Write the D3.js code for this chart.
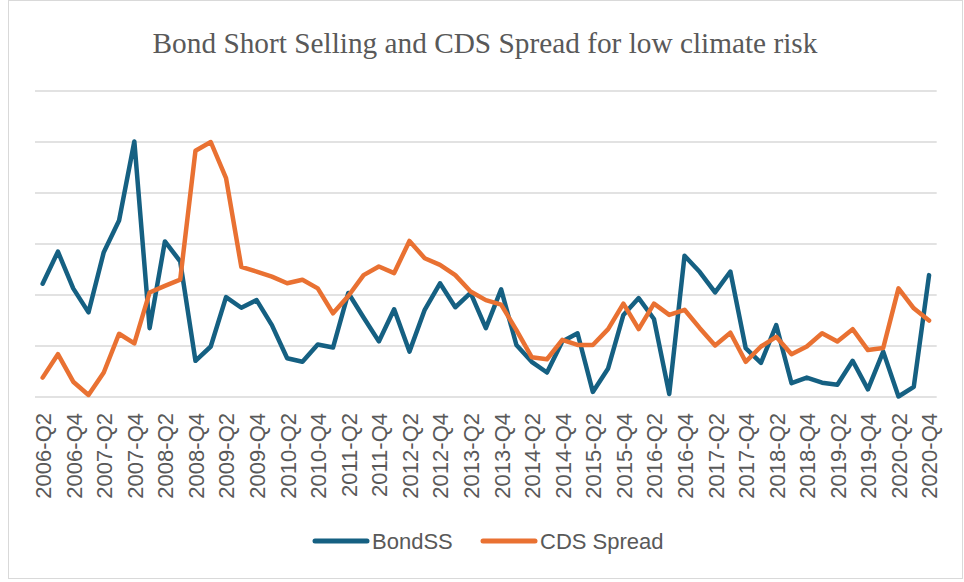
<!DOCTYPE html>
<html>
<head>
<meta charset="utf-8">
<script src="https://cdn.jsdelivr.net/npm/d3@7"></script>
<style>
  body { margin: 0; background: #fff; }
  svg { display: block; }
  .grid line { stroke: #d9d9d9; stroke-width: 1.3; }
  .x-label { font-family: "Liberation Sans", Arial, sans-serif; font-size: 22px; fill: #595959; }
  .legend-text { font-family: "Liberation Sans", Arial, sans-serif; font-size: 22px; fill: #595959; }
  .chart-title { font-family: "Liberation Serif", "Times New Roman", serif; font-size: 29.3px; fill: #595959; }
</style>
</head>
<body>
<div id="chart"></div>
<script>
// quarters 2006-Q2 .. 2020-Q4
const quarters = [];
for (let y = 2006; y <= 2020; y++) {
    for (let q = 1; q <= 4; q++) {
        if (y === 2006 && q === 1) continue;
        quarters.push(`${y}-Q${q}`);
    }
}

const bondSS = [2.22, 2.85, 2.13, 1.66, 2.84, 3.46, 5.01, 1.35, 3.05, 2.66,
    0.71, 0.99, 1.96, 1.75, 1.90, 1.41, 0.76, 0.69, 1.03, 0.97,
    2.04, 1.56, 1.09, 1.72, 0.89, 1.71, 2.23, 1.76, 2.04, 1.35,
    2.11, 1.02, 0.69, 0.48, 1.09, 1.25, 0.10, 0.56, 1.61, 1.94,
    1.53, 0.06, 2.77, 2.45, 2.05, 2.46, 0.96, 0.67, 1.41, 0.27,
    0.38, 0.28, 0.24, 0.71, 0.15, 0.89, 0.01, 0.20, 2.39];

const cdsSpread = [0.38, 0.84, 0.30, 0.04, 0.48, 1.24, 1.05, 2.05, 2.18, 2.30,
    4.83, 5.00, 4.29, 2.55, 2.46, 2.36, 2.23, 2.30, 2.13, 1.64,
    1.98, 2.39, 2.56, 2.43, 3.06, 2.72, 2.59, 2.39, 2.07, 1.90,
    1.81, 1.31, 0.78, 0.74, 1.12, 1.02, 1.02, 1.33, 1.83, 1.33,
    1.83, 1.61, 1.71, 1.35, 1.01, 1.26, 0.69, 0.99, 1.18, 0.84,
    0.99, 1.25, 1.09, 1.33, 0.92, 0.96, 2.13, 1.74, 1.50];

const yTicks = [0, 1, 2, 3, 4, 5, 6];

const seriesNames = ["BondSS", "CDS Spread"];
const seriesColors = ["#156082", "#e97132"];

const width = 964, height = 582;
const plot = {left: 35, right: 936.7, top: 91, bottom: 397};

const svg = d3.select("#chart").append("svg")
    .attr("width", width)
    .attr("height", height);

// outer chart border
svg.append("rect")
    .attr("x", 8.5).attr("y", 0.5)
    .attr("width", 954).attr("height", 578)
    .attr("fill", "none")
    .attr("stroke", "#d9d9d9");

const x = d3.scalePoint()
    .domain(quarters)
    .range([plot.left, plot.right])
    .padding(0.5);

const y = d3.scaleLinear()
    .domain([0, 6])
    .range([plot.bottom, plot.top]);

// gridlines
svg.append("g")
    .attr("class", "grid")
    .selectAll("line")
    .data(yTicks)
    .join("line")
    .attr("x1", plot.left)
    .attr("x2", plot.right)
    .attr("y1", d => y(d))
    .attr("y2", d => y(d));

// x labels, every second quarter, rotated
const xAxis = d3.axisBottom(x)
    .tickValues(quarters.filter((d, i) => i % 2 === 0))
    .tickSize(0)
    .tickPadding(0);

const xg = svg.append("g")
    .attr("transform", `translate(0, ${plot.bottom})`)
    .call(xAxis);
xg.select(".domain").remove();
xg.selectAll(".tick text")
    .attr("class", "x-label")
    .attr("font-size", null)
    .attr("font-family", null)
    .attr("fill", null)
    .attr("transform", "rotate(-90)")
    .attr("text-anchor", "end")
    .attr("x", -16)
    .attr("y", 0)
    .attr("dy", "0.36em");

// lines
const line = d3.line()
    .x((d, i) => x(quarters[i]))
    .y(d => y(d));

[bondSS, cdsSpread].forEach((s, k) => {
    svg.append("path")
        .datum(s)
        .attr("fill", "none")
        .attr("stroke", seriesColors[k])
        .attr("stroke-width", 4.5)
        .attr("stroke-linejoin", "round")
        .attr("stroke-linecap", "round")
        .attr("d", line);
});

// title
svg.append("text")
    .attr("class", "chart-title")
    .attr("x", 485)
    .attr("y", 53)
    .attr("text-anchor", "middle")
    .text("Bond Short Selling and CDS Spread for low climate risk");

// legend
const legendX = [313, 481];
const legend = svg.append("g");
seriesNames.forEach((name, k) => {
    legend.append("line")
        .attr("x1", legendX[k] + 2).attr("x2", legendX[k] + 54)
        .attr("y1", 541).attr("y2", 541)
        .attr("stroke", seriesColors[k])
        .attr("stroke-width", 5)
        .attr("stroke-linecap", "round");
    legend.append("text")
        .attr("class", "legend-text")
        .attr("x", legendX[k] + 59)
        .attr("y", 541)
        .attr("dy", "0.36em")
        .text(name);
});
</script>
</body>
</html>
